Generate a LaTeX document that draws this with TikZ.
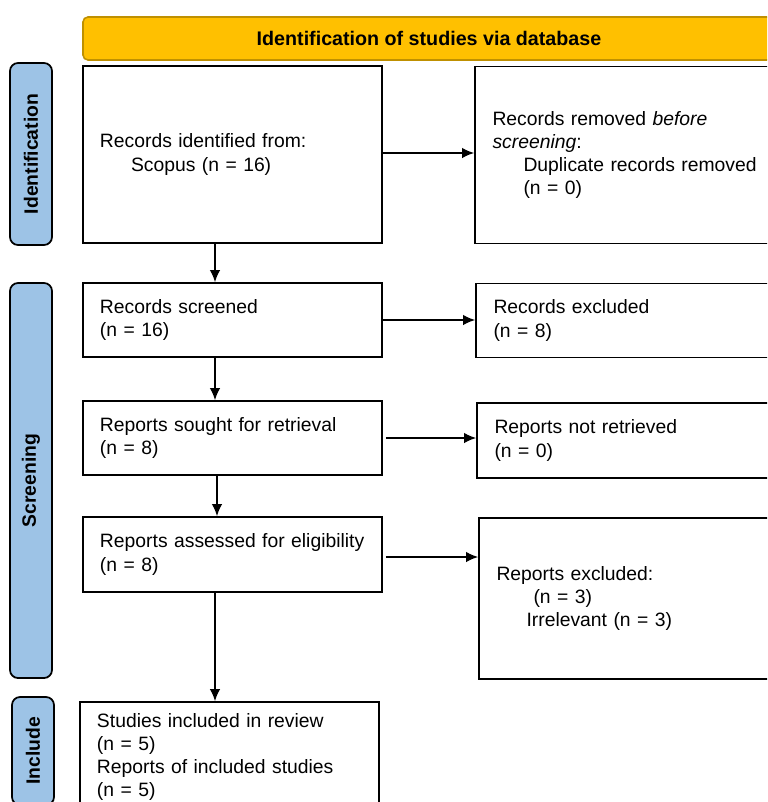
\documentclass[tikz,border=0pt]{standalone}
\usepackage{fontspec}
\setmainfont{Liberation Sans}
\usetikzlibrary{arrows.meta}

\definecolor{phaseblue}{RGB}{157,195,230}
\definecolor{headgold}{RGB}{255,192,0}
\definecolor{headline}{RGB}{191,144,0}

\begin{document}
\begin{tikzpicture}[x=0.2mm,y=-0.2mm,>={Latex[length=2.4mm,width=2.1mm]},line width=0.9pt]
    \tikzstyle{box}=[draw, line width=1pt, align=left, text width=53mm, inner xsep=3.4mm, font=\fontsize{11}{13.1}\selectfont]
    \tikzstyle{phase}=[draw, line width=1pt, rounded corners=1.6mm, fill=phaseblue, minimum height=8.4mm, rotate=90, font=\bfseries\fontsize{11}{13}\selectfont]
  \clip (0,0) rectangle (767,802);
  %header
  \node[draw=headline, fill=headgold, rounded corners=1mm, minimum width=138.4mm, minimum height=8.6mm,
        font=\bfseries\fontsize{11.2}{13}\selectfont] (head) at (429,38.5) {Identification of studies via database};
  %phase labels
  \node[phase, minimum width=36.4mm] (pident) at (31,154) {Identification};
  \node[phase, minimum width=79mm] (pscreen) at (31,480.5) {Screening};
  \node[phase, minimum width=21.6mm] (pincl) at (33,751) {Include};
  %left column
  \node[box, minimum width=59.8mm, minimum height=35.4mm] (ident) at (232.5,154.5)
    {Records identified from:\\\hspace*{6.2mm}Scopus (n = 16)};
  \node[box, minimum width=59.8mm, minimum height=14.8mm] (screened) at (232.5,320)
    {Records screened\\(n = 16)};
  \node[box, minimum width=59.8mm, minimum height=14.8mm] (sought) at (232.5,438)
    {Reports sought for retrieval\\(n = 8)};
  \node[box, minimum width=59.8mm, minimum height=15mm] (assessed) at (232.5,554.5)
    {Reports assessed for eligibility\\(n = 8)};
  \node[box, minimum width=59.8mm, minimum height=22mm] (incl) at (229.5,757)
    {Studies included in review\\(n = 5)\\Reports of included studies\\(n = 5)};
  %right column
  \node[box, minimum width=60mm, minimum height=35.4mm] (removed) at (625,155)
    {Records removed \textit{before}\\\textit{screening}:\\\hspace*{6.2mm}Duplicate records removed\\\hspace*{6.2mm}(n = 0)};
  \node[box, minimum width=60mm, minimum height=14.8mm] (excluded) at (626,320.5)
    {Records excluded\\(n = 8)};
  \node[box, minimum width=60mm, minimum height=15mm] (notret) at (627,440.5)
    {Reports not retrieved\\(n = 0)};
  \node[box, minimum width=60mm, minimum height=32.2mm] (repexcl) at (629,598.5)
    {Reports excluded:\\\hspace*{7.4mm}(n = 3)\\\hspace*{6mm}Irrelevant (n = 3)};
  %arrows
  \draw[->] ([yshift=0.3mm]ident.east) -- ([yshift=0.3mm]ident.east -| removed.west);
  \draw[->] (screened.east) -- (screened.east -| excluded.west);
  \draw[->] ([xshift=0.6mm]sought.east) -- (sought.east -| notret.west);
  \draw[->] ([xshift=0.6mm,yshift=-0.5mm]assessed.east) -- ([yshift=-0.5mm]assessed.east -| repexcl.west);
  \draw[->] ([xshift=-3.5mm]ident.south) -- ([xshift=-3.5mm]screened.north);
  \draw[->] ([xshift=-3.5mm]screened.south) -- ([xshift=-3.5mm]sought.north);
  \draw[->] ([xshift=-3.1mm]sought.south) -- ([xshift=-3.1mm]assessed.north);
  \draw[->] ([xshift=-3.5mm]assessed.south) -- ([xshift=-2.9mm]incl.north);
\end{tikzpicture}
\end{document}
